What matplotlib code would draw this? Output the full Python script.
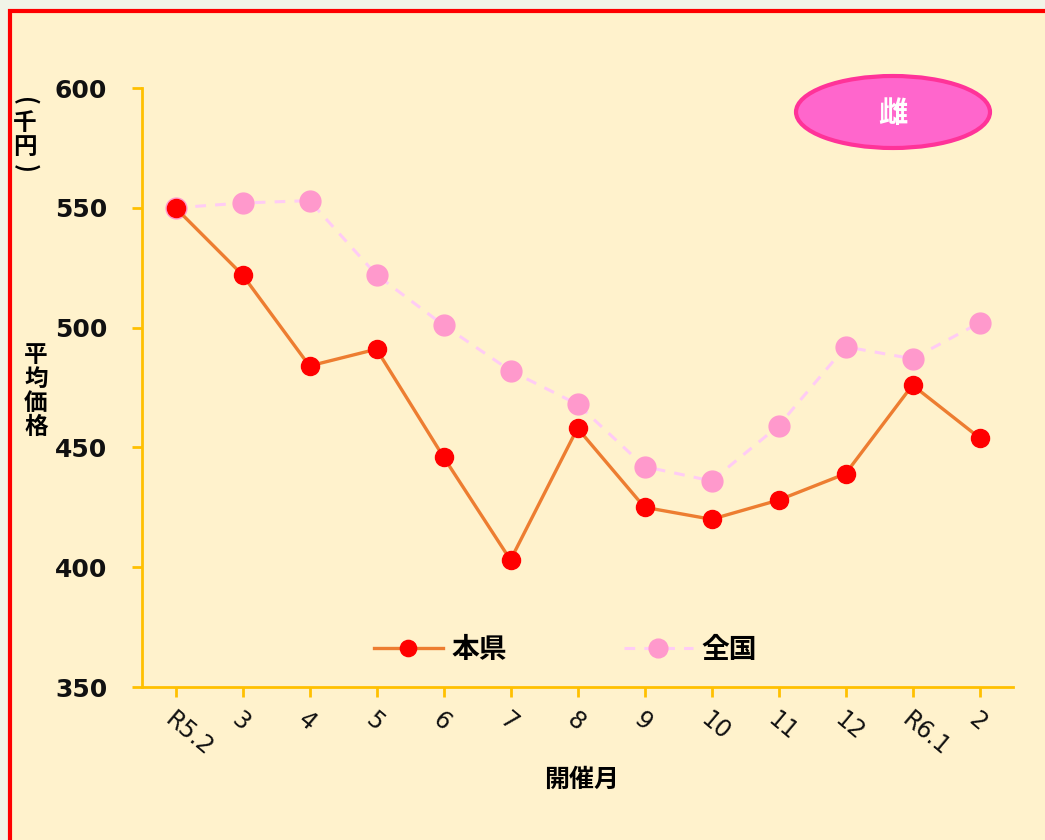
import matplotlib
matplotlib.use("Agg")
import matplotlib.pyplot as plt
from matplotlib.patches import Rectangle, Ellipse

plt.rcParams['font.family'] = ['Noto Sans CJK JP', 'DejaVu Sans']

# data
months = ['R5.2', '3', '4', '5', '6', '7', '8', '9', '10', '11', '12', 'R6.1', '2']
ken = [550, 522, 484, 491, 446, 403, 458, 425, 420, 428, 439, 476, 454]
zenkoku = [550, 552, 553, 522, 501, 482, 468, 442, 436, 459, 492, 487, 502]

fig = plt.figure(figsize=(10.45, 8.4), dpi=100)
fig.patch.set_facecolor('#F1F4E8')

# panel background with red border (left / top only visible)
fig.patches.append(Rectangle((9.5 / 1045, -0.05), 1.1, 1 - 11 / 840 + 0.05,
                             transform=fig.transFigure, facecolor='#FFF2CC',
                             edgecolor='#FF0000', linewidth=3, zorder=-10))

ax = fig.add_axes([142 / 1045, 1 - 687 / 840, 871 / 1045, 599 / 840])
ax.set_facecolor('none')

x = list(range(len(months)))
ax.plot(x, zenkoku, color='#FFCCF5', linestyle=(0, (3.5, 3)), linewidth=2.2,
        marker='o', markersize=15, markerfacecolor='#FF99CC',
        markeredgecolor='#FF99CC', label='全国', zorder=2)
ax.plot(x, ken, color='#ED7D31', linewidth=2.4,
        marker='o', markersize=13, markerfacecolor='#FF0000',
        markeredgecolor='#FF0000', label='本県', zorder=3)

ax.set_xlim(-0.5, len(months) - 0.5)
ax.set_ylim(350, 600)
ax.set_yticks([350, 400, 450, 500, 550, 600])
ax.set_xticks(x)
ax.set_xticklabels(months)

for side in ['top', 'right']:
    ax.spines[side].set_visible(False)
for side in ['left', 'bottom']:
    ax.spines[side].set_color('#FFC000')
    ax.spines[side].set_linewidth(2)
ax.tick_params(axis='both', direction='out', length=7, width=2, color='#FFC000')
ax.tick_params(axis='y', pad=18)
ax.tick_params(axis='x', pad=8)
for lab in ax.get_yticklabels():
    lab.set_family('DejaVu Sans')
    lab.set_fontsize(18)
    lab.set_fontweight('bold')
    lab.set_color('#111111')
for lab in ax.get_xticklabels():
    lab.set_family('DejaVu Sans')
    lab.set_fontsize(17)
    lab.set_rotation(-40)
    lab.set_ha('left')
    lab.set_va('top')
    lab.set_rotation_mode('anchor')
    lab.set_color('#111111')

# legend: 本県 first
h, l = ax.get_legend_handles_labels()
leg = ax.legend([h[1], h[0]], [l[1], l[0]], loc='center', bbox_to_anchor=(0.486, 0.062),
                ncol=2, frameon=False, fontsize=20, handlelength=2.5,
                handletextpad=0.3, columnspacing=4.2, markerscale=0.9)
for t in leg.get_texts():
    t.set_fontweight('bold')

# axis titles
fig.text(582 / 1045, 1 - 780 / 840, '開催月', ha='center', va='center',
         fontsize=18, fontweight='bold')
fig.text(36 / 1045, 1 - 391 / 840, '平\n均\n価\n格', ha='center', va='center',
         fontsize=17, fontweight='bold', linespacing=1.0)
fig.text(25 / 1045, 1 - 101 / 840, '(', ha='center', va='center', rotation=-90,
         fontsize=17, fontweight='bold')
fig.text(25 / 1045, 1 - 135 / 840, '千\n円', ha='center', va='center',
         fontsize=17, fontweight='bold', linespacing=1.0)
fig.text(25 / 1045, 1 - 168 / 840, ')', ha='center', va='center', rotation=-90,
         fontsize=17, fontweight='bold')

# badge
fig.patches.append(Ellipse((893 / 1045, 1 - 112 / 840), 194 / 1045, 72 / 840,
                           transform=fig.transFigure, facecolor='#FF66CC',
                           edgecolor='#FF3399', linewidth=3, zorder=5))
fig.text(893 / 1045, 1 - 113 / 840, '雌', ha='center', va='center', color='white',
         fontsize=21, fontweight='bold', zorder=6)

fig.savefig('out.png', dpi=100, facecolor=fig.get_facecolor())
